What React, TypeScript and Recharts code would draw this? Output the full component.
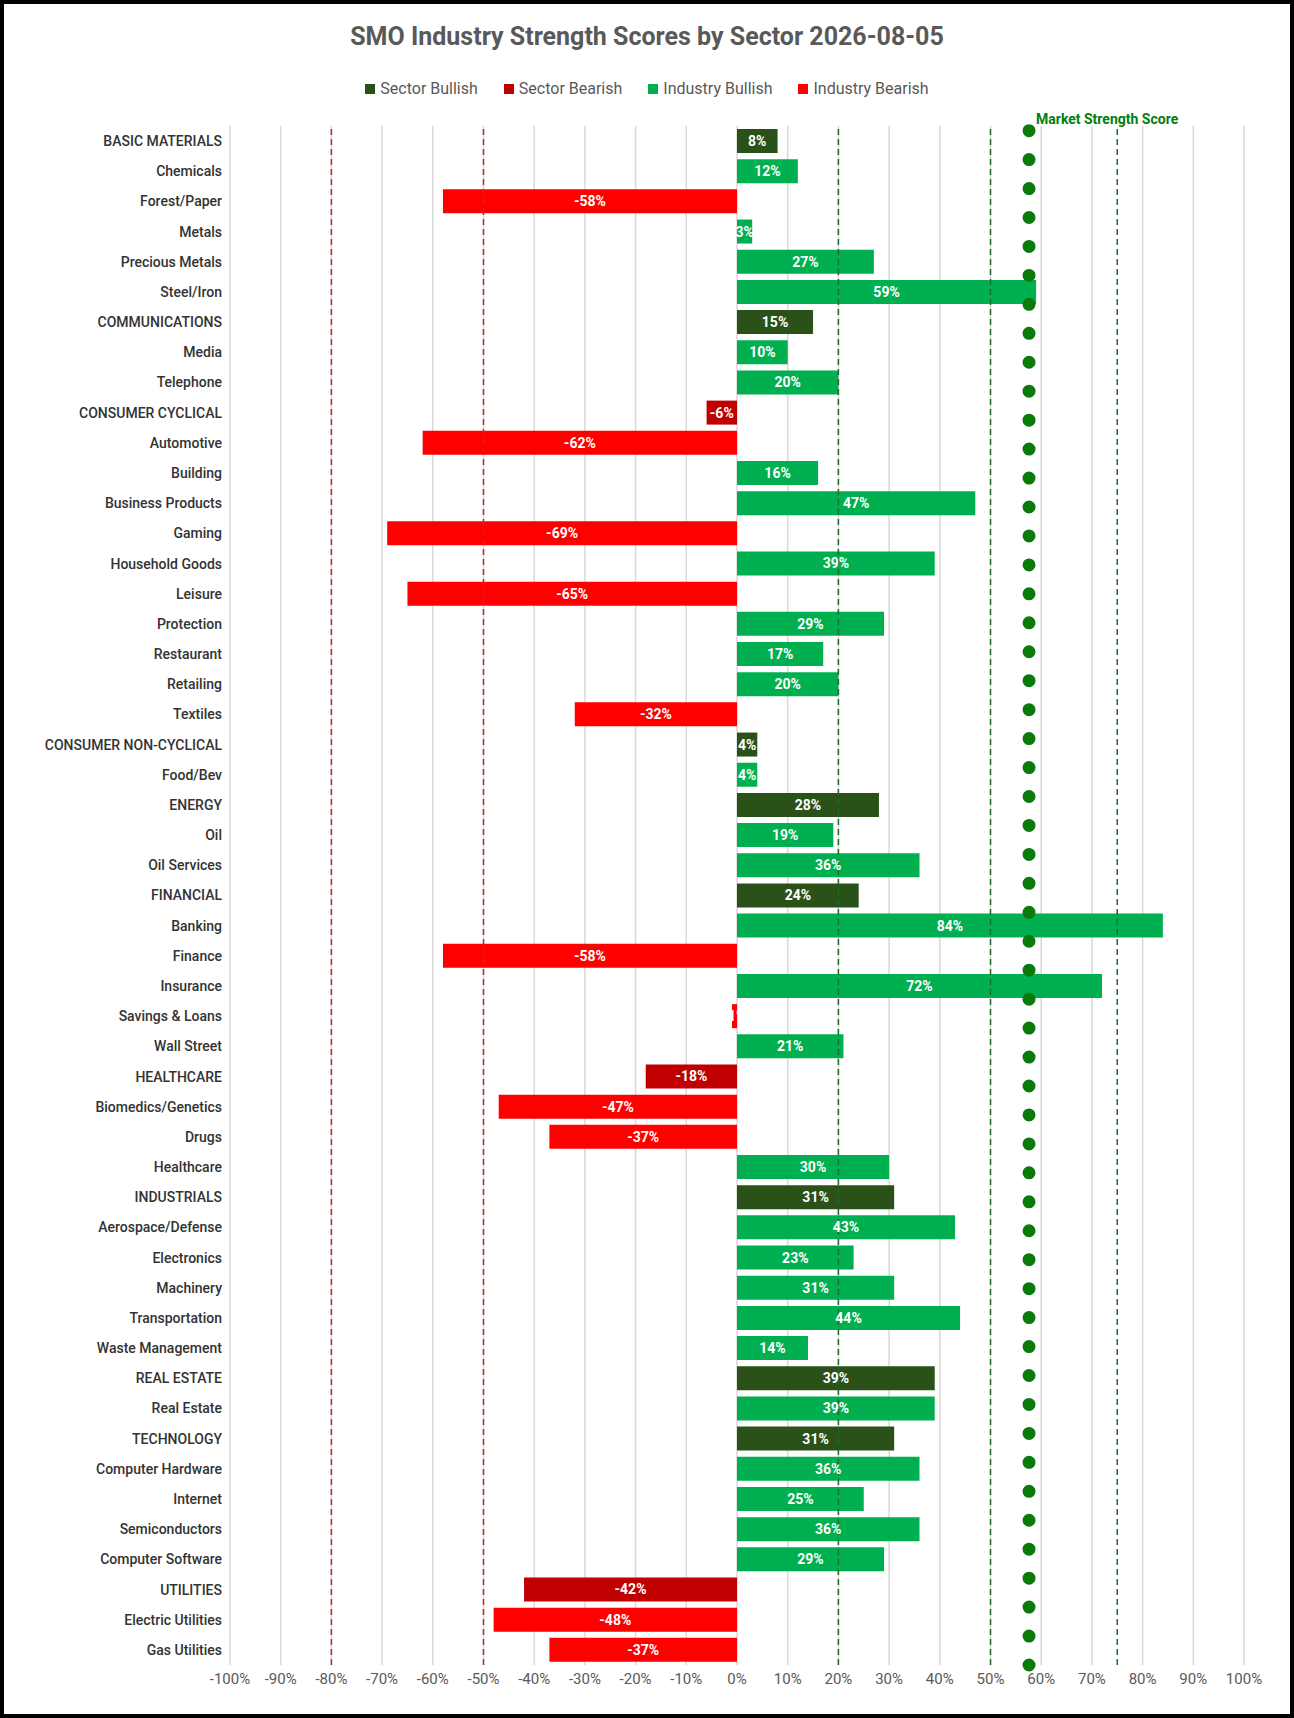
import { BarChart, Bar, XAxis, YAxis, CartesianGrid, ReferenceLine, Cell, LabelList } from "recharts";

const categories = [
  "BASIC MATERIALS", "Chemicals", "Forest/Paper", "Metals", "Precious Metals", "Steel/Iron",
  "COMMUNICATIONS", "Media", "Telephone",
  "CONSUMER CYCLICAL", "Automotive", "Building", "Business Products", "Gaming", "Household Goods",
  "Leisure", "Protection", "Restaurant", "Retailing", "Textiles",
  "CONSUMER NON-CYCLICAL", "Food/Bev",
  "ENERGY", "Oil", "Oil Services",
  "FINANCIAL", "Banking", "Finance", "Insurance", "Savings & Loans", "Wall Street",
  "HEALTHCARE", "Biomedics/Genetics", "Drugs", "Healthcare",
  "INDUSTRIALS", "Aerospace/Defense", "Electronics", "Machinery", "Transportation", "Waste Management",
  "REAL ESTATE", "Real Estate",
  "TECHNOLOGY", "Computer Hardware", "Internet", "Semiconductors", "Computer Software",
  "UTILITIES", "Electric Utilities", "Gas Utilities",
];

const scores = [
  8, 12, -58, 3, 27, 59,
  15, 10, 20,
  -6, -62, 16, 47, -69, 39, -65, 29, 17, 20, -32,
  4, 4,
  28, 19, 36,
  24, 84, -58, 72, -1, 21,
  -18, -47, -37, 30,
  31, 43, 23, 31, 44, 14,
  39, 39,
  31, 36, 25, 36, 29,
  -42, -48, -37,
];

const sectors = [
  "BASIC MATERIALS", "COMMUNICATIONS", "CONSUMER CYCLICAL", "CONSUMER NON-CYCLICAL", "ENERGY",
  "FINANCIAL", "HEALTHCARE", "INDUSTRIALS", "REAL ESTATE", "TECHNOLOGY", "UTILITIES",
];

const xTicks = [-100, -90, -80, -70, -60, -50, -40, -30, -20, -10, 0, 10, 20, 30, 40, 50, 60, 70, 80, 90, 100];
const bearLines = [-80, -50];
const bullLines = [20, 50, 75];
const marketScore = 57.6;

const COLORS = {
  sectorBull: "#2a5118",
  sectorBear: "#c00000",
  industryBull: "#00b050",
  industryBear: "#ff0000",
};

const legendItems = [
  { label: "Sector Bullish", color: COLORS.sectorBull },
  { label: "Sector Bearish", color: COLORS.sectorBear },
  { label: "Industry Bullish", color: COLORS.industryBull },
  { label: "Industry Bearish", color: COLORS.industryBear },
];

const data = categories.map((name, i) => ({ name, value: scores[i] }));

function barColor(name: string, v: number) {
  const sector = sectors.includes(name);
  if (sector) return v >= 0 ? COLORS.sectorBull : COLORS.sectorBear;
  return v >= 0 ? COLORS.industryBull : COLORS.industryBear;
}

export default function App() {
  return (
    <div
      style={{
        position: "absolute", left: 0, top: 0, width: 1294, height: 1718,
        boxSizing: "border-box", border: "4px solid #000", background: "#fff",
        fontFamily: "Roboto, 'Open Sans', sans-serif",
      }}
    >
      <div style={{ position: "absolute", top: 18, width: "100%", textAlign: "center", fontSize: 25, fontWeight: 700, color: "#595959" }}>
        SMO Industry Strength Scores by Sector 2026-08-05
      </div>
      <div style={{ position: "absolute", top: 75, width: "100%", display: "flex", justifyContent: "center", gap: 26, fontSize: 16, color: "#595959" }}>
        {legendItems.map((it) => (
          <span key={it.label} style={{ display: "flex", alignItems: "center", gap: 5 }}>
            <span style={{ width: 10, height: 10, background: it.color, display: "inline-block" }} />
            {it.label}
          </span>
        ))}
      </div>
      <div style={{ position: "absolute", top: 107, left: 1032, fontSize: 14, fontWeight: 700, color: "#00800b" }}>
        Market Strength Score
      </div>
      <BarChart
        width={1286}
        height={1710}
        data={data}
        layout="vertical"
        margin={{ top: 122, right: 46, bottom: 19, left: 0 }}
        barCategoryGap="10%"
      >
        <CartesianGrid horizontal={false} stroke="#d9d9d9" strokeWidth={1.5} />
        <XAxis
          type="number"
          domain={[-100, 100]}
          ticks={xTicks}
          tickFormatter={(v) => `${v}%`}
          axisLine={false}
          tickLine={false}
          height={30}
          tick={{ fontSize: 15, fill: "#595959" }}
        />
        <YAxis
          type="category"
          dataKey="name"
          width={226}
          axisLine={false}
          tickLine={false}
          interval={0}
          tick={{ fontSize: 14, fill: "#333", fontWeight: 500 }}
        />
        {bearLines.map((x) => (
          <ReferenceLine key={x} x={x} stroke="#c0282d" strokeWidth={1.5} strokeDasharray="6 4" />
        ))}
        {bullLines.map((x) => (
          <ReferenceLine key={x} x={x} stroke="#1e6b2a" strokeWidth={1.5} strokeDasharray="6 4" />
        ))}
        <Bar dataKey="value" isAnimationActive={false}>
          {data.map((d) => (
            <Cell key={d.name} fill={barColor(d.name, d.value)} />
          ))}
          <LabelList
            dataKey="value"
            position="center"
            formatter={(v: any) => `${v}%`}
            style={{ fill: "#fff", fontSize: 14, fontWeight: 700 }}
          />
        </Bar>
        <ReferenceLine
          x={marketScore}
          stroke="#0a7a0a"
          strokeWidth={13}
          strokeDasharray="0 28.95"
          strokeLinecap="round"
          ifOverflow="visible"
        />
      </BarChart>
    </div>
  );
}
